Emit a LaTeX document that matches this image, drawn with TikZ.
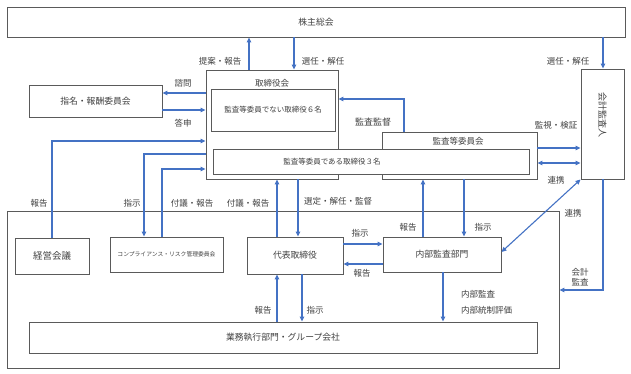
\documentclass[tikz,border=0pt]{standalone}
\usepackage{fontspec}
\setmainfont{Noto Sans CJK JP}
\usepackage{tikz}
\usetikzlibrary{arrows.meta}
\usepackage{xcolor}
\definecolor{linkblue}{RGB}{68,114,196}
\definecolor{boxgray}{RGB}{90,90,90}
\definecolor{textgray}{RGB}{64,64,64}

\begin{document}
\begin{tikzpicture}[x=1pt, y=-1pt,
  box/.style={draw=boxgray, fill=white, line width=0.9pt, inner sep=0pt, text=textgray,
    font=\fontsize{8.8}{10}\selectfont},
  arr/.style={draw=linkblue, line width=1.1pt, -{Triangle[length=5pt, width=4.5pt]}},
  twoway/.style={draw=linkblue, line width=1.1pt, {Triangle[length=5pt, width=4.5pt]}-{Triangle[length=5pt, width=4.5pt]}},
  lbl/.style={text=textgray, inner sep=0pt, font=\fontsize{8.5}{10}\selectfont}]
  \useasboundingbox (0,0) rectangle (631,373);

  \node[box, minimum width=552, minimum height=157] (group) at (283,289.5) {};

  \node[box, minimum width=618, minimum height=30] (agm) at (316,22) {株主総会};
  \node[box, minimum width=132, minimum height=109] (bod) at (272,124.5) {};
  \node[lbl] (bodtitle) at (272,83) {取締役会};
  \node[box, minimum width=155, minimum height=47] (ac) at (459.5,155.5) {};
  \node[lbl] (actitle) at (458,141) {監査等委員会};
  \node[box, minimum width=124, minimum height=42, font=\fontsize{7.5}{9}\selectfont] (nonaudit) at (273,110) {監査等委員でない取締役６名};
  \node[box, minimum width=316, minimum height=25] (audmem) at (371,161.5) {};
  \node[lbl, font=\fontsize{7.5}{9}\selectfont] (audmemtext) at (332,162) {監査等委員である取締役３名};
  \node[box, minimum width=43, minimum height=110] (auditor) at (602.5,124) {};
  \node[lbl, rotate=-90, font=\fontsize{9}{10}\selectfont] (auditortext) at (602.5,115) {会計監査人};
  \node[box, minimum width=133, minimum height=32] (nomcom) at (95.5,101) {指名・報酬委員会};

  \node[box, minimum width=74, minimum height=36, font=\fontsize{9.5}{10}\selectfont] (mgmt) at (52,256) {経営会議};
  \node[box, minimum width=113, minimum height=35, font=\fontsize{5.8}{7}\selectfont] (comp) at (166.5,254.5) {コンプライアンス・リスク管理委員会};
  \node[box, minimum width=96, minimum height=37] (rep) at (295,255.5) {代表取締役};
  \node[box, minimum width=118, minimum height=35] (iad) at (442,254.5) {内部監査部門};
  \node[box, minimum width=508, minimum height=31] (biz) at (283,337.5) {業務執行部門・グループ会社};

  \draw[arr] (bod.north -| 249,0) -- (agm.south -| 249,0);
  \node[lbl] (l1) at (220,61) {提案・報告};
  \draw[arr] (agm.south -| 294,0) -- (bod.north -| 294,0);
  \node[lbl] (l2) at (323,61) {選任・解任};
  \draw[arr] (agm.south -| 603,0) -- (auditor.north -| 603,0);
  \node[lbl] (l3) at (568,61) {選任・解任};

  \draw[arr] (bod.west |- 0,93) -- (nomcom.east |- 0,93);
  \node[lbl] (l4) at (183,83) {諮問};
  \draw[arr] (nomcom.east |- 0,110) -- (bod.west |- 0,110);
  \node[lbl] (l5) at (183,123) {答申};

  \draw[arr] (mgmt.north) |- (bod.west |- 0,141);
  \node[lbl] (l6) at (39,203) {報告};
  \draw[arr] (bod.west |- 0,154) -| (comp.north -| 144,0);
  \node[lbl] (l7) at (132,203) {指示};
  \draw[arr] (comp.north -| 162,0) |- (bod.west |- 0,169);
  \node[lbl] (l8) at (192,203) {付議・報告};
  \draw[arr] (rep.north -| 277,0) -- (bod.south -| 277,0);
  \node[lbl] (l9) at (248,203) {付議・報告};
  \draw[arr] (bod.south -| 298,0) -- (rep.north -| 298,0);
  \node[lbl] (l10) at (338,201) {選定・解任・監督};

  \draw[arr] (ac.north -| 404,0) |- (bod.east |- 0,99);
  \node[lbl, font=\fontsize{9}{10}\selectfont] (l11) at (373,122) {監査監督};
  \draw[arr] (ac.east |- 0,148) -- (auditor.west |- 0,148);
  \node[lbl] (l12) at (556,125) {監視・検証};
  \draw[twoway] (ac.east |- 0,163) -- (auditor.west |- 0,163);
  \node[lbl] (l13) at (556,180) {連携};
  \draw[twoway] (auditor.south west) -- (iad.east |- 0,252);
  \node[lbl] (l14) at (573,213) {連携};
  \draw[arr] (auditor.south -| 603,0) |- (group.east |- 0,290);
  \node[lbl, align=center, font=\fontsize{8.5}{9.5}\selectfont] (l15) at (580,277) {会計\\監査};

  \draw[arr] (iad.north -| 423,0) -- (ac.south -| 423,0);
  \node[lbl] (l16) at (408,227) {報告};
  \draw[arr] (ac.south -| 464,0) -- (iad.north -| 464,0);
  \node[lbl] (l17) at (483,227) {指示};
  \draw[arr] (rep.east |- 0,244) -- (iad.west |- 0,244);
  \node[lbl] (l18) at (360,233) {指示};
  \draw[arr] (iad.west |- 0,264) -- (rep.east |- 0,264);
  \node[lbl] (l19) at (362,273) {報告};

  \draw[arr] (biz.north -| 277,0) -- (rep.south -| 277,0);
  \node[lbl] (l20) at (263,310) {報告};
  \draw[arr] (rep.south -| 302,0) -- (biz.north -| 302,0);
  \node[lbl] (l21) at (315,310) {指示};
  \draw[arr] (iad.south -| 443,0) -- (biz.north -| 443,0);
  \node[lbl, anchor=west, align=left, font=\fontsize{8.5}{16}\selectfont] (l22) at (461,302) {内部監査\\内部統制評価};
\end{tikzpicture}
\end{document}
